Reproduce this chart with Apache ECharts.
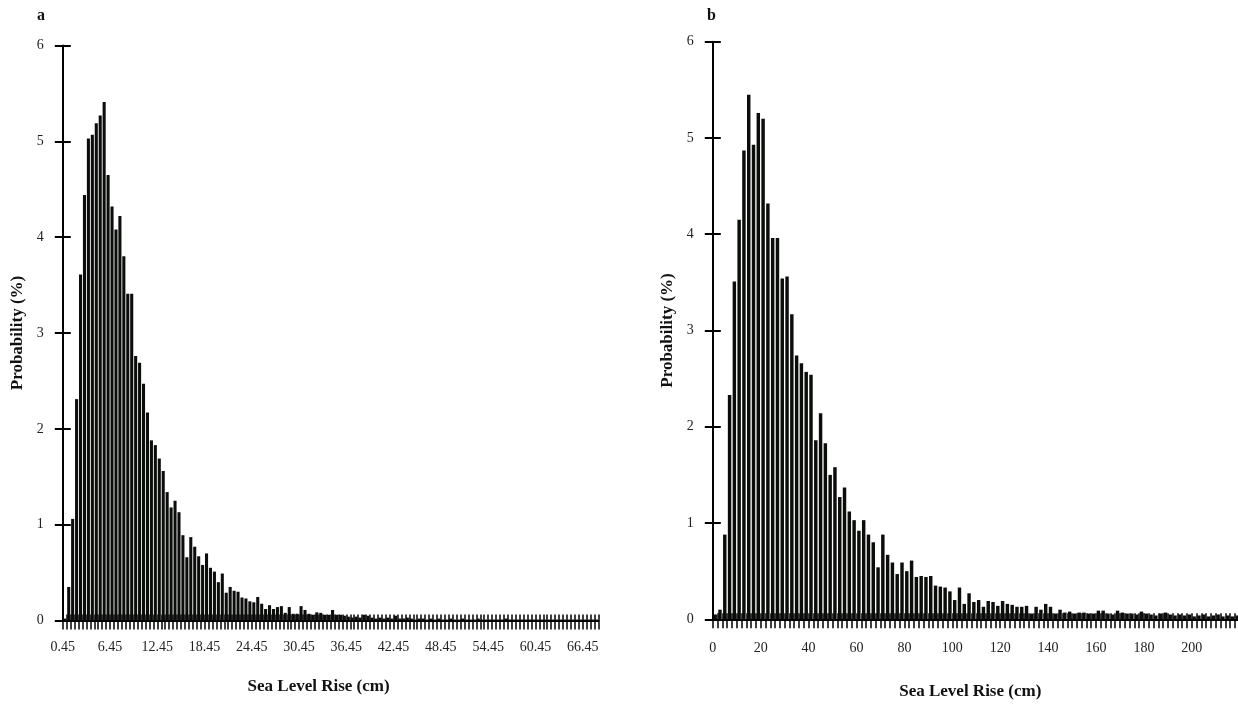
<!DOCTYPE html>
<html><head><meta charset="utf-8">
<script src="https://cdn.jsdelivr.net/npm/echarts@6/dist/echarts.min.js"></script>
<style>html,body{margin:0;padding:0;background:#fff}#c{width:1238px;height:704px}</style>
</head><body><div id="c"></div>
<script>
// Panel a: probability (%) per 0.5 cm bin starting at 0.45 cm
const valuesA = [
 0.02, 0.35, 1.06, 2.31, 3.61, 4.44, 5.03, 5.07, 5.19, 5.27,
 5.41, 4.65, 4.32, 4.08, 4.22, 3.80, 3.41, 3.41, 2.76, 2.69,
 2.47, 2.17, 1.88, 1.83, 1.69, 1.56, 1.34, 1.18, 1.25, 1.13,
 0.89, 0.66, 0.87, 0.77, 0.67, 0.58, 0.70, 0.55, 0.51, 0.40,
 0.49, 0.29, 0.35, 0.31, 0.30, 0.24, 0.23, 0.20, 0.19, 0.245,
 0.175, 0.12, 0.16, 0.12, 0.14, 0.15, 0.08, 0.14, 0.07, 0.07,
 0.15, 0.11, 0.07, 0.06, 0.085, 0.08, 0.06, 0.06, 0.11, 0.06,
 0.06, 0.05, 0.04, 0.03, 0.04, 0.03, 0.06, 0.05, 0.03, 0.02,
 0.03, 0.02, 0.03, 0.02, 0.05, 0.02, 0.02, 0.03, 0.02, 0.01,
 0.02, 0.02, 0.01, 0.02, 0.01, 0.02, 0.01, 0.01, 0.02, 0.01,
 0.01, 0.02, 0.01, 0.01, 0.01, 0.02, 0.01, 0.01, 0.01, 0.01,
 0.01, 0.01, 0.02, 0.01, 0.01, 0.01, 0.01, 0.01, 0.01, 0.01,
 0.01, 0.01, 0.01, 0.01, 0.01, 0.01, 0.01, 0.01, 0.01, 0.01,
 0.01, 0.01, 0.01, 0.01, 0.01, 0.01
];
// Panel b: probability (%) per 2 cm bin starting at 0 cm
const valuesB = [
 0.05, 0.10, 0.88, 2.33, 3.51, 4.15, 4.87, 5.45, 4.93, 5.26,
 5.20, 4.32, 3.96, 3.96, 3.54, 3.56, 3.17, 2.74, 2.66, 2.57,
 2.54, 1.86, 2.14, 1.83, 1.50, 1.58, 1.27, 1.37, 1.12, 1.03,
 0.92, 1.03, 0.88, 0.80, 0.54, 0.88, 0.67, 0.59, 0.47, 0.59,
 0.50, 0.61, 0.44, 0.45, 0.44, 0.45, 0.35, 0.34, 0.33, 0.29,
 0.20, 0.33, 0.16, 0.27, 0.18, 0.20, 0.13, 0.19, 0.18, 0.14,
 0.19, 0.16, 0.15, 0.13, 0.13, 0.14, 0.06, 0.13, 0.10, 0.16,
 0.13, 0.06, 0.10, 0.07, 0.08, 0.06, 0.07, 0.07, 0.06, 0.06,
 0.09, 0.09, 0.06, 0.05, 0.09, 0.07, 0.06, 0.06, 0.05, 0.08,
 0.06, 0.05, 0.04, 0.06, 0.07, 0.05, 0.04, 0.05, 0.04, 0.05,
 0.03, 0.04, 0.05, 0.03, 0.04, 0.05, 0.03, 0.04, 0.03, 0.04
];
const tickLabelsA = ['0.45','6.45','12.45','18.45','24.45','30.45','36.45','42.45','48.45','54.45','60.45','66.45'];
const tickLabelsB = ['0','20','40','60','80','100','120','140','160','180','200'];
const yTickLabels = ['0','1','2','3','4','5','6'];
const binStartA = 0.45, binWidthA = 0.5, decA = 2;
const binStartB = 0, binWidthB = 2, decB = 0;

// category names (bins) and bin edges
const catsA = valuesA.map((v, i) => (binStartA + i * binWidthA).toFixed(decA));
const edgesA = []; for (let i = 0; i <= valuesA.length; i++) edgesA.push((binStartA + i * binWidthA).toFixed(decA));
const catsB = valuesB.map((v, i) => (binStartB + i * binWidthB).toFixed(decB));
const edgesB = []; for (let i = 0; i <= valuesB.length; i++) edgesB.push((binStartB + i * binWidthB).toFixed(decB));

const FONT = '"Liberation Serif", "Times New Roman", serif';
const BAR = '#0b0d0b';
const INK = '#000';

function yAxes(g, nameGap) {
  return [
    { gridIndex: g, type: 'value', min: 0, max: 6, interval: 1, position: 'left',
      axisLine: { show: true, onZero: false, lineStyle: { color: INK, width: 2 } },
      axisTick: { show: true, inside: false, length: 8, lineStyle: { color: INK, width: 2 } },
      axisLabel: { margin: 19, fontFamily: FONT, fontSize: 14, color: '#222',
                   formatter: v => yTickLabels[Math.round(v)] },
      splitLine: { show: false },
      name: 'Probability (%)', nameLocation: 'middle', nameGap: nameGap,
      nameTextStyle: { fontFamily: FONT, fontWeight: 'bold', fontSize: 17, color: '#111' } },
    { gridIndex: g, type: 'value', min: 0, max: 6, interval: 1, position: 'left',
      axisLine: { show: false, onZero: false },
      axisTick: { show: true, inside: true, length: 8, lineStyle: { color: INK, width: 2 } },
      axisLabel: { show: false }, splitLine: { show: false } }
  ];
}
function xAxes(g, cats, edges, labels, margin, nameGap, namePad) {
  return [
    { gridIndex: g, type: 'category', data: cats, boundaryGap: true, position: 'bottom',
      axisLine: { show: true, onZero: false, lineStyle: { color: INK, width: 2 } },
      axisTick: { show: true, inside: true, length: 6, interval: 0, lineStyle: { color: INK, width: 1.5 } },
      axisLabel: { show: false }, splitLine: { show: false } },
    { gridIndex: g, type: 'category', data: edges, boundaryGap: false, position: 'bottom',
      axisLine: { show: false, onZero: false },
      axisTick: { show: true, inside: false, length: 9, interval: 0, lineStyle: { color: INK, width: 1.5 } },
      axisLabel: { interval: 0, margin: margin, fontFamily: FONT, fontSize: 14, color: '#222',
                   formatter: v => labels.indexOf(v) >= 0 ? v : '' },
      splitLine: { show: false },
      name: 'Sea Level Rise (cm)', nameLocation: 'middle', nameGap: nameGap,
      nameTextStyle: { fontFamily: FONT, fontWeight: 'bold', fontSize: 17, color: '#111', padding: namePad } }
  ];
}

const chart = echarts.init(document.getElementById('c'), null, { renderer: 'canvas' });
chart.setOption({
  animation: false,
  backgroundColor: '#fff',
  grid: [
    { left: 62.8, top: 45.5, width: 535.6, height: 575, outerBoundsMode: 'none', containLabel: false },
    { left: 712.8, top: 41.7, width: 526.9, height: 577.6, outerBoundsMode: 'none', containLabel: false }
  ],
  xAxis: [].concat(
    xAxes(0, catsA, edgesA, tickLabelsA, 20, 58, [0, 24, 0, 0]),
    xAxes(1, catsB, edgesB, tickLabelsB, 22, 64, [0, 12, 0, 0])
  ),
  yAxis: [].concat(yAxes(0, 37), yAxes(1, 37)),
  series: [
    { type: 'bar', xAxisIndex: 0, yAxisIndex: 0, data: valuesA, barCategoryGap: '22%',
      itemStyle: { color: BAR }, silent: true },
    { type: 'bar', xAxisIndex: 2, yAxisIndex: 2, data: valuesB, barCategoryGap: '28%',
      itemStyle: { color: BAR }, silent: true }
  ],
  graphic: [
    { type: 'text', left: 37, top: 8, style: { text: 'a', font: 'bold 16px ' + FONT, fill: '#111' } },
    { type: 'text', left: 707, top: 8, style: { text: 'b', font: 'bold 16px ' + FONT, fill: '#111' } }
  ]
});
</script>
</body></html>
